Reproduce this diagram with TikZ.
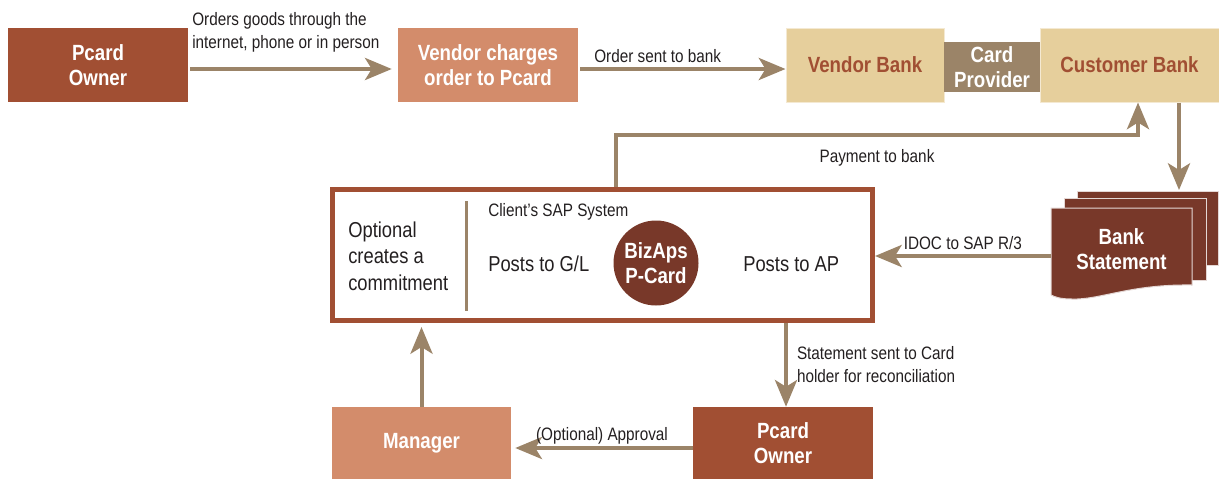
\documentclass[tikz,border=0pt]{standalone}
\usepackage{fontspec}
\setmainfont{Liberation Sans}[FakeStretch=0.85]
\usetikzlibrary{arrows.meta}

\definecolor{ownerred}{HTML}{A14F33}
\definecolor{vendorsalmon}{HTML}{D38C6B}
\definecolor{banksand}{HTML}{E6CF9C}
\definecolor{providertan}{HTML}{9B8468}
\definecolor{stmtbrown}{HTML}{783829}
\definecolor{inkgray}{HTML}{231F20}

\newcommand{\boxfont}{\fontsize{16.5}{18.75}\selectfont\bfseries}
\newcommand{\lblfont}{\fontsize{13.5}{17}\selectfont}
\newcommand{\sapfont}{\fontsize{16.2}{19.9}\selectfont}

\begin{document}
\begin{tikzpicture}[x=0.75pt, y=-0.75pt,
  >={Stealth[length=20pt, width=16.5pt, inset=5pt]},
  box/.style={rectangle, inner sep=0pt, align=center, text=white, font=\boxfont,
    minimum width=135pt, minimum height=55.5pt},
  bank/.style={box, fill=banksand, text=ownerred, draw=white!55!banksand, line width=0.75pt},
  flow/.style={->, line width=3pt, draw=providertan},
  lbl/.style={font=\lblfont, text=inkgray, align=left, inner sep=0pt},
  saptext/.style={font=\sapfont, text=inkgray, align=left, inner sep=0pt, anchor=west},
  sheet/.style={fill=stmtbrown, draw=white!80!stmtbrown, line width=0.75pt}]
  \useasboundingbox (0,0) rectangle (1219,479);

  % Fila superior
  \node[box, fill=ownerred] (owner) at (98,65) {Pcard\\Owner};
  \node[box, fill=vendorsalmon] (vendor) at (488,65) {Vendor charges\\order to Pcard};
  \node[bank, minimum width=118.5pt] (vbank) at (865,65) {Vendor Bank};
  \node[bank, minimum width=134.25pt] (cbank) at (1129.5,65) {Customer Bank};
  \node[box, fill=providertan, minimum width=72pt, minimum height=37.5pt] (provider) at (992,67) {Card\\Provider};

  % Sistema SAP
  \node[rectangle, draw=ownerred, line width=3.75pt, minimum width=405pt, minimum height=98.25pt] (sap) at (602.5,255) {};
  \draw[providertan, line width=2.25pt] (466,201) -- (466,311);
  \node[saptext] (commit) at (348,256) {Optional\\creates a\\commitment};
  \node[lbl, anchor=west] (client) at (488,212) {Client’s SAP System};
  \node[saptext] (gl) at (488,264) {Posts to G/L};
  \node[saptext] (ap) at (743,264) {Posts to AP};
  \node[circle, fill=stmtbrown, minimum size=63.75pt, inner sep=0pt, align=center, text=white, font=\boxfont] (bizaps) at (656,263) {BizAps\\P-Card};

  % Extracto bancario (tres hojas)
  \fill[sheet] (1077,191) rectangle (1218,265);
  \fill[sheet] (1064,198) rectangle (1206,280);
  \filldraw[sheet] (1051,208) -- (1192,208) -- (1192,285)
    .. controls (1130,284) and (1100,300) .. (1072,299)
    .. controls (1060,299) and (1055,297) .. (1051,295) -- cycle;
  \node[box, minimum width=105.75pt, minimum height=0pt] (stmt) at (1121.5,249) {Bank\\Statement};
  \coordinate (stx) at (1179,190);

  % Fila inferior
  \node[box, fill=vendorsalmon, minimum width=134.25pt, minimum height=54pt] (manager) at (421.5,443) {Manager};
  \node[box, fill=ownerred, minimum height=54pt] (owner2) at (783,443) {Pcard\\Owner};

  % Flechas
  \draw[flow, shorten <=1.5pt, shorten >=4.5pt] ([yshift=-3pt]owner.east) -- ([yshift=-3pt]vendor.west)
    node[lbl, pos=0, anchor=south west, xshift=1.5pt, yshift=11pt] (orderlbl) {Orders goods through the\\internet, phone or in person};
  \draw[flow, shorten <=1.5pt] ([yshift=-3pt]vendor.east) -- ([yshift=-3pt]vbank.west)
    node[lbl, pos=0, anchor=base west, xshift=10.5pt, yshift=5.25pt] (sentlbl) {Order sent to bank};

  \coordinate (pay) at (616,135);
  \coordinate (payin) at (1138,0);
  \draw[flow] (pay |- sap.north) -- (pay) -| node[lbl, pos=0.25, below=9pt] (paylbl) {Payment to bank} (payin |- cbank.south);

  \draw[flow] (stx |- cbank.south) -- (stx);
  \draw[flow] ([yshift=-5.25pt]stmt.west) -- ([yshift=-5.25pt]stmt.west -| sap.east)
    node[lbl, midway, anchor=base, yshift=5.25pt] (idoclbl) {IDOC to SAP R/3};

  \coordinate (stm) at (786,0);
  \draw[flow] (stm |- sap.south) -- (stm |- owner2.north)
    node[lbl, midway, right=6.75pt] (recolbl) {Statement sent to Card\\holder for reconciliation};
  \draw[flow, shorten >=3pt] ([yshift=-3.75pt]owner2.west) -- ([yshift=-3.75pt]manager.east)
    node[lbl, midway, anchor=base, yshift=6pt] (apprlbl) {(Optional) Approval};
  \draw[flow, shorten >=3pt] (manager.north) -- (manager.north |- sap.south);
\end{tikzpicture}
\end{document}
